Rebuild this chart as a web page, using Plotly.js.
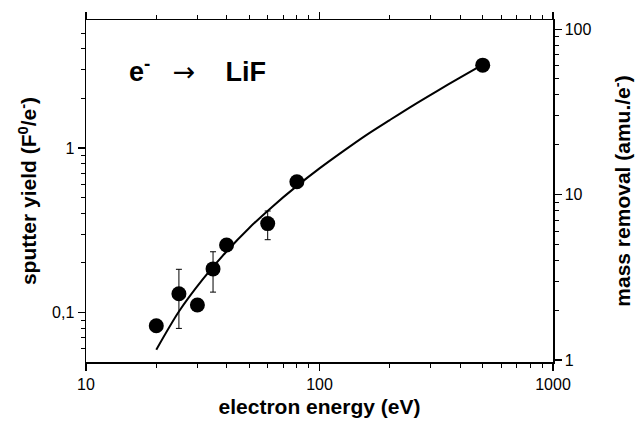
<!DOCTYPE html>
<html><head><meta charset="utf-8">
<script src="https://cdn.plot.ly/plotly-3.0.1.min.js"></script>
<style>html,body{margin:0;padding:0;background:#fff}</style>
</head><body><div id="chart" style="width:639px;height:425px"></div>
<script>
// measured data
const energy    = [20, 25, 30, 35, 40, 60, 80, 500];
const yieldVals = [0.083, 0.130, 0.111, 0.184, 0.257, 0.347, 0.624, 3.19];
const errPlus   = [null, 0.053, null, 0.050, null, 0.067, null, null];
const errMinus  = [null, 0.050, null, 0.051, null, 0.070, null, null];
// fitted curve
const fitEnergy = [20, 25, 31.6, 39.8, 50, 63, 79.4, 100, 126, 158, 200, 251, 316, 398, 500];
const fitYield  = [0.0594, 0.1014, 0.1589, 0.2333, 0.3266, 0.4416, 0.5821, 0.7516, 0.9539, 1.194, 1.479, 1.811, 2.203, 2.667, 3.21];
// tick labels
const xTickVals = [10, 100, 1000];
const xTickText = ['10', '100', '1000'];
const yTickVals = [0.1, 1];
const yTickText = ['0,1', '1'];
const y2TickVals = [1, 10, 100];
const y2TickText = ['1', '10', '100'];
const xMinor = [20,30,40,50,60,70,80,90,200,300,400,500,600,700,800,900];
const yMinor = [0.06,0.07,0.08,0.09,0.2,0.3,0.4,0.5,0.6,0.7,0.8,0.9,2,3,4,5];
const y2Minor = [2,3,4,5,6,7,8,9,20,30,40,50,60,70,80,90];

const FONT = 'Liberation Sans, Arial, Helvetica, sans-serif';

const traces = [
  {x: fitEnergy, y: fitYield, type: 'scatter', mode: 'lines', line: {color: '#000', width: 2, shape: 'spline', smoothing: 0.8}, hoverinfo: 'skip'},
  {x: energy, y: yieldVals, type: 'scatter', mode: 'markers',
   marker: {color: '#000', size: 15},
   error_y: {type: 'data', symmetric: false, array: errPlus, arrayminus: errMinus, color: '#000', thickness: 1, width: 3}},
  {x: [], y: [], yaxis: 'y2', type: 'scatter', mode: 'markers', showlegend: false}
];

const commonAxis = {
  type: 'log', showgrid: false, zeroline: false, showline: true, linecolor: '#000', linewidth: 1.5,
  ticks: 'outside', ticklen: 7, tickwidth: 1.2, tickcolor: '#000', tickmode: 'array',
  tickfont: {family: FONT, size: 16, color: '#000'}
};
const titleFont = {family: FONT, size: 21, weight: 'bold', color: '#000'};

const layout = {
  width: 639, height: 425,
  margin: {l: 86, r: 86, t: 20, b: 63},
  paper_bgcolor: '#fff', plot_bgcolor: '#fff',
  showlegend: false,
  xaxis: Object.assign({}, commonAxis, {
    range: [1, 3], tickvals: xTickVals, ticktext: xTickText, mirror: 'ticks',
    minor: {tickmode: 'array', tickvals: xMinor, ticks: 'outside', ticklen: 4, tickwidth: 1, tickcolor: '#000'},
    title: {text: 'electron energy (eV)', standoff: 7, font: titleFont}
  }),
  yaxis: Object.assign({}, commonAxis, {
    range: [Math.log10(0.05), Math.log10(6)], tickvals: yTickVals, ticktext: yTickText,
    minor: {tickmode: 'array', tickvals: yMinor, ticks: 'outside', ticklen: 4, tickwidth: 1, tickcolor: '#000'},
    title: {text: 'sputter yield (F<sup>0</sup>/e<sup>-</sup>)', standoff: 9, font: titleFont}
  }),
  yaxis2: Object.assign({}, commonAxis, {
    overlaying: 'y', side: 'right', anchor: 'x',
    range: [-0.012, 2.055], tickvals: y2TickVals, ticktext: y2TickText,
    minor: {tickmode: 'array', tickvals: y2Minor, ticks: 'outside', ticklen: 4, tickwidth: 1, tickcolor: '#000'},
    title: {text: 'mass removal (amu./e<sup>-</sup>)', standoff: 25, font: titleFont}
  }),
  annotations: [{
    xref: 'paper', yref: 'paper', x: 0.087, y: 0.854, xanchor: 'left', yanchor: 'middle', showarrow: false,
    text: 'e<sup>-</sup>\u00a0\u00a0\u00a0<span style="font-family:DejaVu Sans;font-weight:normal">\u2192</span>\u00a0\u00a0\u00a0\u00a0LiF',
    font: {family: FONT, size: 27, weight: 'bold', color: '#000'}
  }]
};

Plotly.newPlot('chart', traces, layout, {displayModeBar: false, staticPlot: true});
</script>
</body></html>
